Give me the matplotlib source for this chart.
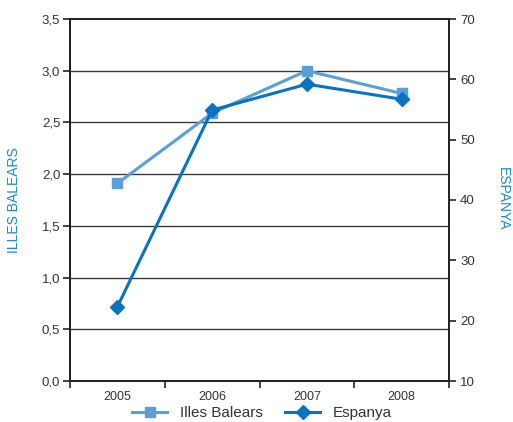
import matplotlib
matplotlib.use("Agg")
import matplotlib.pyplot as plt
from matplotlib.ticker import FuncFormatter, MultipleLocator
from matplotlib.lines import Line2D

plt.rcParams['font.family'] = ['Liberation Sans', 'DejaVu Sans']

years = ['2005', '2006', '2007', '2008']
illes_balears = [1.91, 2.59, 3.0, 2.78]
espanya = [22.3, 54.9, 59.2, 56.7]

c_ib = '#5b9fd8'
c_es = '#0873c1'
c_lab = '#1a8ad4'
c_txt = '#333333'

fig = plt.figure(figsize=(5.13, 4.22), dpi=100)
ax = fig.add_axes([70/513, 41/422, 379/513, 362/422])
ax2 = ax.twinx()

x = list(range(len(years)))
ax.set_xlim(-0.5, len(years) - 0.5)
ax.set_ylim(0, 3.5)
ax2.set_ylim(10, 70)

ax.yaxis.set_major_locator(MultipleLocator(0.5))
ax.yaxis.set_major_formatter(FuncFormatter(lambda v, p: f"{v:.1f}".replace('.', ',')))
ax2.yaxis.set_major_locator(MultipleLocator(10))

for v in [0.5, 1.0, 1.5, 2.0, 2.5, 3.0]:
    ax.axhline(v, color='#3a3a3a', lw=1.0, zorder=1)

ax.set_xticks(x)
ax.set_xticklabels(years)
ax.set_xticks([i - 0.5 for i in range(len(years) + 1)], minor=True)
ax.tick_params(axis='x', which='major', length=0, pad=7, labelsize=9, colors=c_txt)
ax.tick_params(axis='x', which='minor', length=5, width=1.2, color='#222222', direction='out')
ax.tick_params(axis='y', length=5, width=1.2, color='#222222', labelsize=9.5, labelcolor=c_txt, pad=2)
ax2.tick_params(axis='y', length=5, width=1.2, color='#222222', labelsize=9.5, labelcolor=c_txt, pad=3)

for a in (ax, ax2):
    for s in a.spines.values():
        s.set_color('#222222')
        s.set_linewidth(1.3)

ax.plot(x, illes_balears, color=c_ib, lw=2.2, marker='s', ms=7.5, zorder=3)
ax2.plot(x, espanya, color=c_es, lw=2.2, marker='D', ms=7.5, zorder=4)

fig.text(14/513, 1 - 200/422, 'ILLES BALEARS', rotation=90, ha='center', va='center',
         color=c_lab, fontsize=10)
fig.text(503/513, 1 - 199/422, 'ESPANYA', rotation=270, ha='center', va='center',
         color=c_lab, fontsize=10)

handles = [Line2D([], [], color=c_ib, lw=2.2, marker='s', ms=7.5),
           Line2D([], [], color=c_es, lw=2.2, marker='D', ms=7.5)]
fig.legend(handles, ['Illes Balears', 'Espanya'], loc='center', bbox_to_anchor=(262/513, 1 - 413/422),
           ncol=2, frameon=False, fontsize=11, handlelength=2.3, columnspacing=1.5,
           labelcolor=c_txt, handletextpad=0.8)

fig.savefig('out.png', dpi=100)
